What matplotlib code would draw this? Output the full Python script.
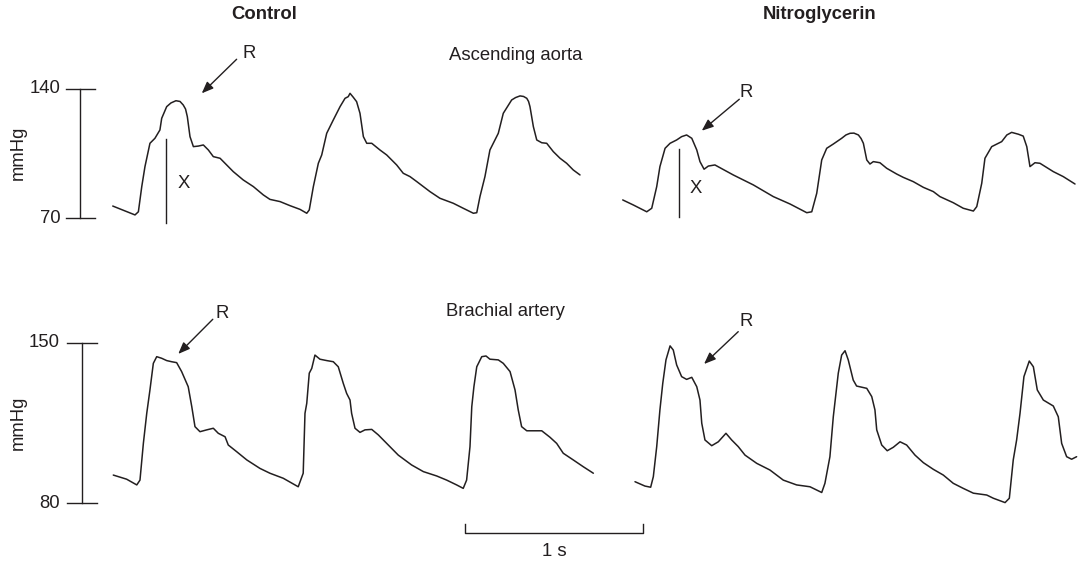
import numpy as np
import matplotlib
matplotlib.use("Agg")
import matplotlib.pyplot as plt

plt.rcParams["font.family"] = ["Liberation Sans", "DejaVu Sans"]

ink = "#231f20"

# Ascending aorta pressure, control (time in s, pressure in mmHg)
aorta_ctrl_t = [0.184, 0.309, 0.328, 0.347, 0.365, 0.393, 0.421, 0.449, 0.459, 0.487,
                0.511, 0.539, 0.562, 0.580, 0.593, 0.603, 0.618, 0.637, 0.665, 0.693,
                0.721, 0.749, 0.787, 0.824, 0.861, 0.917, 0.974, 1.030, 1.067, 1.124,
                1.180, 1.236, 1.274, 1.288, 1.311, 1.339, 1.358, 1.386, 1.423, 1.461,
                1.489, 1.507, 1.517, 1.535, 1.554, 1.573, 1.592, 1.611, 1.639, 1.685,
                1.723, 1.779, 1.816, 1.854, 1.892, 1.929, 1.966, 2.022, 2.097, 2.153,
                2.210, 2.229, 2.247, 2.275, 2.303, 2.350, 2.378, 2.425, 2.447, 2.472,
                2.492, 2.510, 2.520, 2.528, 2.547, 2.566, 2.594, 2.622, 2.659, 2.697,
                2.734, 2.771, 2.809]
aorta_ctrl_p = [76.6, 71.8, 73.5, 87.1, 97.9, 110.5, 113.2, 117.7, 124.0, 130.3,
                132.3, 133.5, 133.1, 131.2, 129.0, 124.9, 114.1, 108.7, 109.0, 109.6,
                106.9, 103.3, 102.4, 98.8, 95.2, 90.7, 87.1, 82.6, 80.2, 79.0,
                76.8, 74.8, 72.7, 74.5, 87.1, 99.7, 104.2, 115.9, 123.1, 130.3,
                134.8, 135.7, 137.5, 135.4, 133.0, 126.7, 114.1, 110.5, 110.5, 106.9,
                104.2, 98.8, 94.3, 92.5, 89.8, 87.1, 84.4, 80.8, 78.1, 75.4,
                72.7, 73.0, 81.7, 92.5, 106.9, 115.9, 126.7, 133.9, 135.2, 136.1,
                135.8, 134.8, 133.1, 130.3, 119.5, 112.3, 110.8, 110.5, 106.0, 102.4,
                99.7, 96.1, 93.4]

# Ascending aorta pressure, nitroglycerin
aorta_ntg_t = [3.049, 3.108, 3.184, 3.212, 3.240, 3.258, 3.287, 3.315, 3.352, 3.380,
               3.408, 3.437, 3.465, 3.483, 3.506, 3.530, 3.567, 3.670, 3.783, 3.895,
               3.989, 4.083, 4.111, 4.139, 4.167, 4.195, 4.232, 4.279, 4.303, 4.326,
               4.348, 4.373, 4.388, 4.401, 4.420, 4.438, 4.457, 4.494, 4.532, 4.588,
               4.625, 4.681, 4.738, 4.794, 4.831, 4.906, 4.962, 5.019, 5.038, 5.066,
               5.084, 5.122, 5.178, 5.207, 5.234, 5.272, 5.299, 5.319, 5.337, 5.365,
               5.393, 5.468, 5.524, 5.590]
aorta_ntg_p = [79.9, 77.2, 73.5, 75.4, 87.1, 97.9, 107.8, 110.5, 112.3, 114.1,
               115.0, 113.2, 106.9, 100.6, 96.5, 98.2, 98.8, 93.4, 88.0, 81.7,
               77.7, 73.0, 73.5, 83.5, 101.5, 107.8, 110.1, 113.2, 115.0, 115.9,
               116.0, 115.0, 113.1, 110.5, 101.5, 99.3, 100.6, 100.0, 97.0, 93.9,
               92.1, 89.8, 86.7, 84.4, 81.7, 78.4, 75.4, 73.9, 76.3, 88.9,
               102.4, 108.7, 111.4, 115.0, 116.4, 115.4, 114.4, 108.7, 97.9, 100.0,
               99.7, 95.2, 92.5, 88.5]

# Brachial artery pressure, control
brach_ctrl_t = [0.187, 0.262, 0.319, 0.337, 0.356, 0.375, 0.393, 0.412, 0.431, 0.459,
                0.487, 0.515, 0.543, 0.571, 0.608, 0.628, 0.646, 0.674, 0.712, 0.749,
                0.777, 0.815, 0.833, 0.880, 0.937, 1.011, 1.067, 1.142, 1.226, 1.254,
                1.264, 1.274, 1.288, 1.302, 1.320, 1.348, 1.386, 1.423, 1.451, 1.479,
                1.498, 1.517, 1.526, 1.545, 1.573, 1.601, 1.639, 1.676, 1.732, 1.788,
                1.863, 1.929, 2.004, 2.060, 2.116, 2.153, 2.172, 2.191, 2.201, 2.213,
                2.229, 2.257, 2.281, 2.303, 2.350, 2.378, 2.416, 2.444, 2.462, 2.481,
                2.510, 2.594, 2.640, 2.678, 2.715, 2.771, 2.828, 2.884]
brach_ctrl_p = [92.3, 90.5, 88.0, 90.1, 106.1, 119.2, 129.4, 141.0, 143.9, 143.2,
                142.2, 141.7, 141.3, 137.4, 130.8, 122.1, 113.4, 111.2, 112.0, 112.7,
                110.5, 109.0, 105.4, 102.5, 98.9, 95.2, 93.1, 90.9, 87.2, 93.1,
                119.2, 123.6, 136.7, 138.8, 144.6, 142.8, 142.2, 141.7, 139.5, 132.3,
                127.9, 125.0, 119.2, 112.7, 110.9, 112.0, 112.2, 109.8, 105.4, 101.0,
                96.7, 93.8, 91.9, 90.1, 88.0, 86.5, 90.1, 104.7, 122.1, 130.8,
                139.5, 143.9, 144.2, 142.8, 142.5, 141.0, 137.4, 129.4, 120.7, 113.4,
                111.6, 111.6, 108.8, 106.1, 101.8, 98.9, 95.9, 93.1]

# Brachial artery pressure, nitroglycerin
brach_ntg_t = [3.118, 3.174, 3.206, 3.221, 3.240, 3.258, 3.274, 3.292, 3.315, 3.333,
               3.352, 3.380, 3.408, 3.437, 3.465, 3.483, 3.493, 3.511, 3.549, 3.586,
               3.629, 3.661, 3.698, 3.736, 3.802, 3.876, 3.951, 4.026, 4.101, 4.167,
               4.185, 4.213, 4.232, 4.260, 4.279, 4.298, 4.316, 4.344, 4.363, 4.420,
               4.448, 4.466, 4.476, 4.504, 4.535, 4.569, 4.607, 4.644, 4.691, 4.738,
               4.794, 4.850, 4.906, 4.962, 5.019, 5.094, 5.131, 5.197, 5.221, 5.243,
               5.262, 5.281, 5.303, 5.333, 5.356, 5.378, 5.412, 5.468, 5.496, 5.515,
               5.543, 5.571, 5.599]
brach_ntg_p = [89.4, 87.5, 87.0, 91.6, 104.7, 120.7, 132.3, 142.5, 148.6, 146.8,
               140.3, 135.2, 134.0, 134.9, 130.8, 125.0, 114.9, 107.6, 105.1, 106.8,
               110.5, 107.6, 104.7, 101.0, 97.4, 94.5, 90.1, 88.0, 87.2, 84.7,
               88.7, 100.3, 117.7, 136.7, 144.6, 146.5, 142.5, 133.7, 131.1, 130.1,
               126.5, 120.7, 112.0, 105.4, 102.9, 104.4, 106.8, 105.4, 101.0, 97.7,
               94.8, 92.3, 88.7, 86.5, 84.4, 83.6, 82.2, 80.3, 82.2, 98.9,
               107.6, 119.2, 135.2, 142.0, 139.5, 129.4, 125.0, 122.4, 117.7, 106.1,
               100.3, 99.2, 100.3]

# calibration bars (mmHg) and time bar (s)
aorta_scale = [70, 140]
brach_scale = [80, 150]
time_bar = [2.165, 3.165]

fig = plt.figure(figsize=(10.8, 5.63), dpi=100)
ax_top = fig.add_axes([0, 0.5027, 1, 0.4973])
ax_bot = fig.add_axes([0, 0, 1, 0.5027])
for ax in (ax_top, ax_bot):
    ax.set_xlim(-0.4494, 5.618)
    ax.axis("off")
ax_top.set_ylim(36.65, 187.92)
ax_bot.set_ylim(53.97, 177.33)

trace = dict(color=ink, lw=1.1, solid_joinstyle="round", solid_capstyle="round")
ax_top.plot(aorta_ctrl_t, aorta_ctrl_p, **trace)
ax_top.plot(aorta_ntg_t, aorta_ntg_p, **trace)
ax_bot.plot(brach_ctrl_t, brach_ctrl_p, **trace)
ax_bot.plot(brach_ntg_t, brach_ntg_p, **trace)

fs = 13.3
bar = dict(color=ink, lw=1.0)

# pressure calibration bars
ax_top.plot([0, 0], aorta_scale, **bar)
ax_bot.plot([0.011, 0.011], brach_scale, **bar)
for v in aorta_scale:
    ax_top.plot([-0.079, 0.084], [v, v], **bar)
    ax_top.text(-0.107, v, str(v), ha="right", va="center", fontsize=fs, color=ink)
for v in brach_scale:
    ax_bot.plot([-0.073, 0.096], [v, v], **bar)
    ax_bot.text(-0.112, v, str(v), ha="right", va="center", fontsize=fs, color=ink)
ax_top.text(-0.348, 105.3, "mmHg", rotation=90, ha="center", va="center", fontsize=fs, color=ink)
ax_bot.text(-0.348, 115.0, "mmHg", rotation=90, ha="center", va="center", fontsize=fs, color=ink)

# 1 s time bar
ax_bot.plot([time_bar[0], time_bar[0], time_bar[1], time_bar[1]], [71.0, 67.0, 67.0, 71.0], **bar)
ax_bot.text(np.mean(time_bar), 58.8, "1 s", ha="center", va="center", fontsize=fs, color=ink)

# reflected wave markers
arrow = dict(arrowstyle="-|>,head_length=0.7,head_width=0.28", color=ink, lw=1.0,
             shrinkA=0, shrinkB=0)
ax_top.annotate("", xy=(0.684, 137.5), xytext=(0.880, 155.9), arrowprops=arrow)
ax_top.text(0.949, 159.1, "R", ha="center", va="center", fontsize=fs, color=ink)
ax_top.annotate("", xy=(3.493, 117.3), xytext=(3.704, 134.3), arrowprops=arrow)
ax_top.text(3.740, 137.8, "R", ha="center", va="center", fontsize=fs, color=ink)
ax_bot.annotate("", xy=(0.552, 145.1), xytext=(0.746, 160.2), arrowprops=arrow)
ax_bot.text(0.801, 162.9, "R", ha="center", va="center", fontsize=fs, color=ink)
ax_bot.annotate("", xy=(3.506, 140.7), xytext=(3.698, 154.8), arrowprops=arrow)
ax_bot.text(3.740, 159.4, "R", ha="center", va="center", fontsize=fs, color=ink)

# augmentation (X) markers
ax_top.plot([0.481, 0.481], [67.6, 112.7], **bar)
ax_top.text(0.583, 88.9, "X", ha="center", va="center", fontsize=fs, color=ink)
ax_top.plot([3.367, 3.367], [70.5, 107.3], **bar)
ax_top.text(3.460, 86.2, "X", ha="center", va="center", fontsize=fs, color=ink)

# site labels
ax_top.text(2.449, 157.7, "Ascending aorta", ha="center", va="center", fontsize=fs, color=ink)
ax_bot.text(2.390, 163.4, "Brachial artery", ha="center", va="center", fontsize=fs, color=ink)

fig.text(0.2444, 0.9734, "Control", ha="center", va="center", fontsize=fs,
         fontweight="bold", color=ink)
fig.text(0.759, 0.9734, "Nitroglycerin", ha="center", va="center", fontsize=fs,
         fontweight="bold", color=ink)

fig.savefig("out.png", dpi=100, facecolor="white")
